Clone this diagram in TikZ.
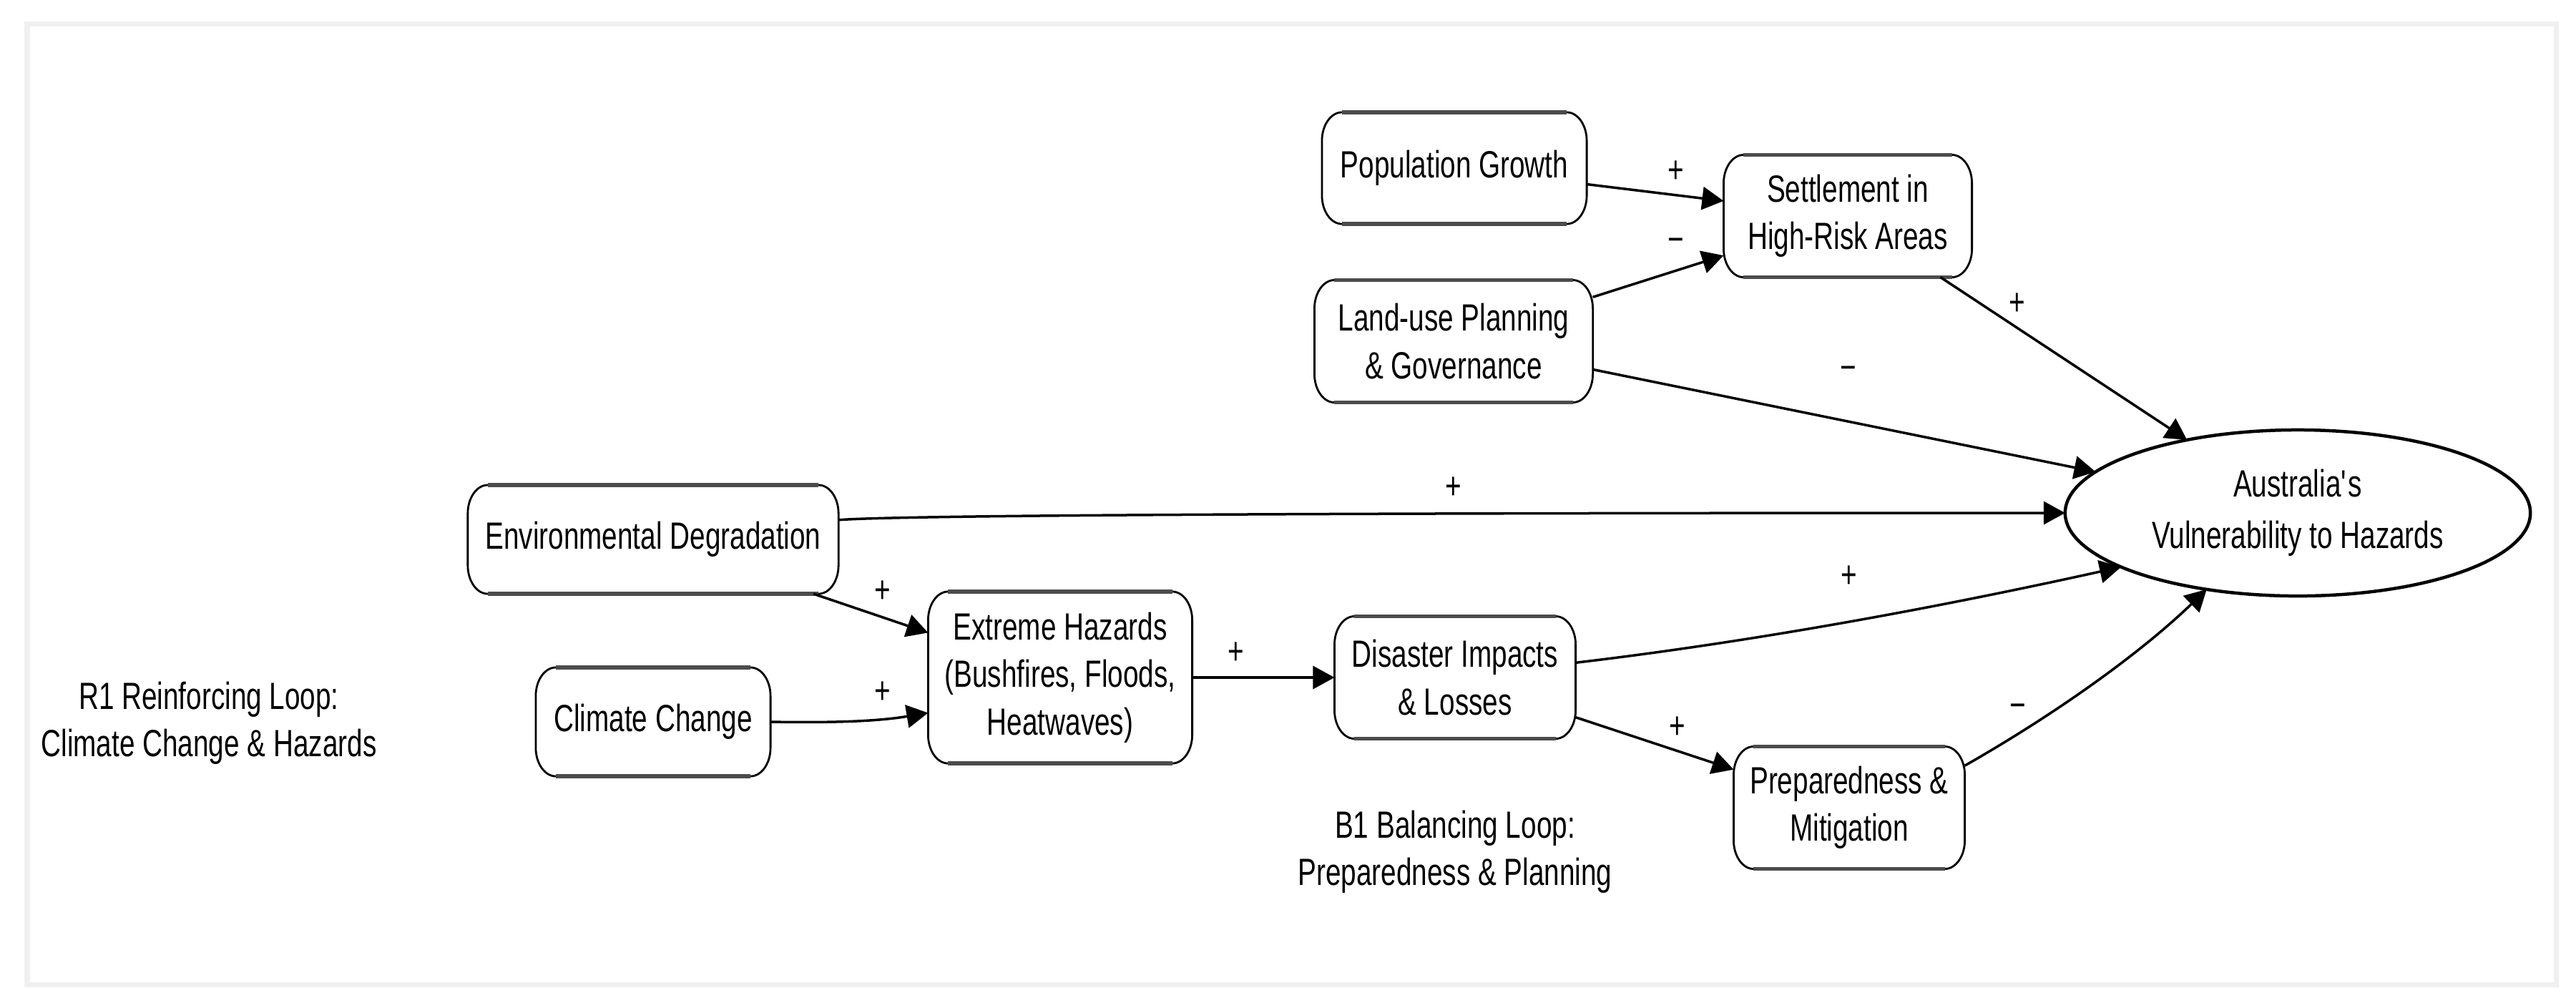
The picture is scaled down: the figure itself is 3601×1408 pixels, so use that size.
\documentclass[tikz,border=0pt]{standalone}
\usepackage{fontspec}
\setmainfont{Liberation Sans}[FakeStretch=0.73]
\usetikzlibrary{arrows.meta,calc,shapes.geometric}
\definecolor{framegray}{HTML}{F0F0F0}
\newcommand{\boxoutline}[1]{%
  \draw[boxside] ($(#1.north west)+(28,0)$) -- ($(#1.north east)+(-28,0)$)
    .. controls +(15.5,0) and +(0,-22) .. ($(#1.north east)+(0,40)$)
    -- ($(#1.south east)+(0,-40)$)
    .. controls +(0,22) and +(15.5,0) .. ($(#1.south east)+(-28,0)$)
    -- ($(#1.south west)+(28,0)$)
    .. controls +(-15.5,0) and +(0,22) .. ($(#1.south west)+(0,-40)$)
    -- ($(#1.north west)+(0,40)$)
    .. controls +(0,-22) and +(-15.5,0) .. ($(#1.north west)+(28,0)$) -- cycle;
  \draw[boxtb] ($(#1.north west)+(28,0)$) -- ($(#1.north east)+(-28,0)$);
  \draw[boxtb] ($(#1.south west)+(28,0)$) -- ($(#1.south east)+(-28,0)$);
}
\begin{document}
\begin{tikzpicture}[x=0.01cm,y=-0.01cm,
  every node/.style={font=\fontsize{15.08pt}{18.9pt}\selectfont, text=black},
  bx/.style={rectangle, draw=none, inner sep=0pt, outer sep=0pt, align=center},
  boxside/.style={draw=black, line width=0.028cm},
  boxtb/.style={draw=black!70, line width=0.055cm},
  conn/.style={line width=0.035cm, -{Triangle[length=0.3cm,width=0.32cm]}},
  lbl/.style={inner sep=0pt, outer sep=0pt},
  txt/.style={inner sep=0pt, outer sep=0pt, align=center}]
\useasboundingbox[fill=white] (0,0) rectangle (3601,1408);
\draw[framegray, line width=0.07cm] (38,33.5) rectangle (3573,1376.5);

% nodes
\node[bx, minimum width=3.70cm, minimum height=1.56cm] (pop) at (2033,235) {Population Growth};
\node[bx, minimum width=3.47cm, minimum height=1.71cm] (settl) at (2583,302) {Settlement in\\High-Risk Areas};
\node[bx, minimum width=3.89cm, minimum height=1.71cm] (land) at (2032,477) {Land-use Planning\\\& Governance};
\node[bx, minimum width=5.18cm, minimum height=1.52cm] (env) at (913,754) {Environmental Degradation};
\node[bx, minimum width=3.28cm, minimum height=1.52cm] (clim) at (913,1009) {Climate Change};
\node[bx, minimum width=3.69cm, minimum height=2.40cm] (ext) at (1482,947) {Extreme Hazards\\(Bushfires, Floods,\\Heatwaves)};
\node[bx, minimum width=3.37cm, minimum height=1.71cm] (dis) at (2034,947) {Disaster Impacts\\\& Losses};
\node[bx, minimum width=3.23cm, minimum height=1.71cm] (prep) at (2585,1129) {Preparedness \&\\Mitigation};
\node[draw, ellipse, line width=0.045cm, minimum width=6.5cm, minimum height=2.32cm,
  inner sep=0pt, outer sep=0pt, align=center, font=\fontsize{15.08pt}{20.5pt}\selectfont]
  (aus) at (3212,717) {Australia\textquotesingle s\\Vulnerability to Hazards};

\foreach \n in {pop,settl,land,env,clim,ext,dis,prep}{\boxoutline{\n}}

% connectors
\draw[conn] (pop) -- (settl);
\draw[conn] (land) -- (settl);
\draw[conn] (settl) -- (aus);
\draw[conn] (land) -- (aus);
\draw[conn] (env.6) .. controls (1300,717) and (2500,717) .. (aus.west);
\draw[conn] (env) -- (ext);
\draw[conn] (clim.east) .. controls (1190,1011) and (1240,1006) .. (ext.195);
\draw[conn] (ext) -- (dis);
\draw[conn] (dis.7) .. controls (2450,897) and (2705,850) .. (aus.197);
\draw[conn] (dis) -- (prep);
\draw[conn] (prep.20) .. controls (2870,1000) and (2990,915) .. (aus.220);

% polarity labels
\node[lbl] (l1) at (2343,240) {+};
\node[lbl] (l2) at (2343,343) {−};
\node[lbl] (l3) at (2820,425) {+};
\node[lbl] (l4) at (2584,522) {−};
\node[lbl] (l5) at (2032,682) {+};
\node[lbl] (l6) at (1234,827) {+};
\node[lbl] (l7) at (1234,968) {+};
\node[lbl] (l8) at (1728,913) {+};
\node[lbl] (l9) at (2585,806) {+};
\node[lbl] (l10) at (2345,1017) {+};
\node[lbl] (l11) at (2821,994) {−};

% loop labels
\node[txt] (r1) at (292,1011) {R1 Reinforcing Loop:\\Climate Change \& Hazards};
\node[txt] (b1) at (2034,1191) {B1 Balancing Loop:\\Preparedness \& Planning};
\end{tikzpicture}
\end{document}
